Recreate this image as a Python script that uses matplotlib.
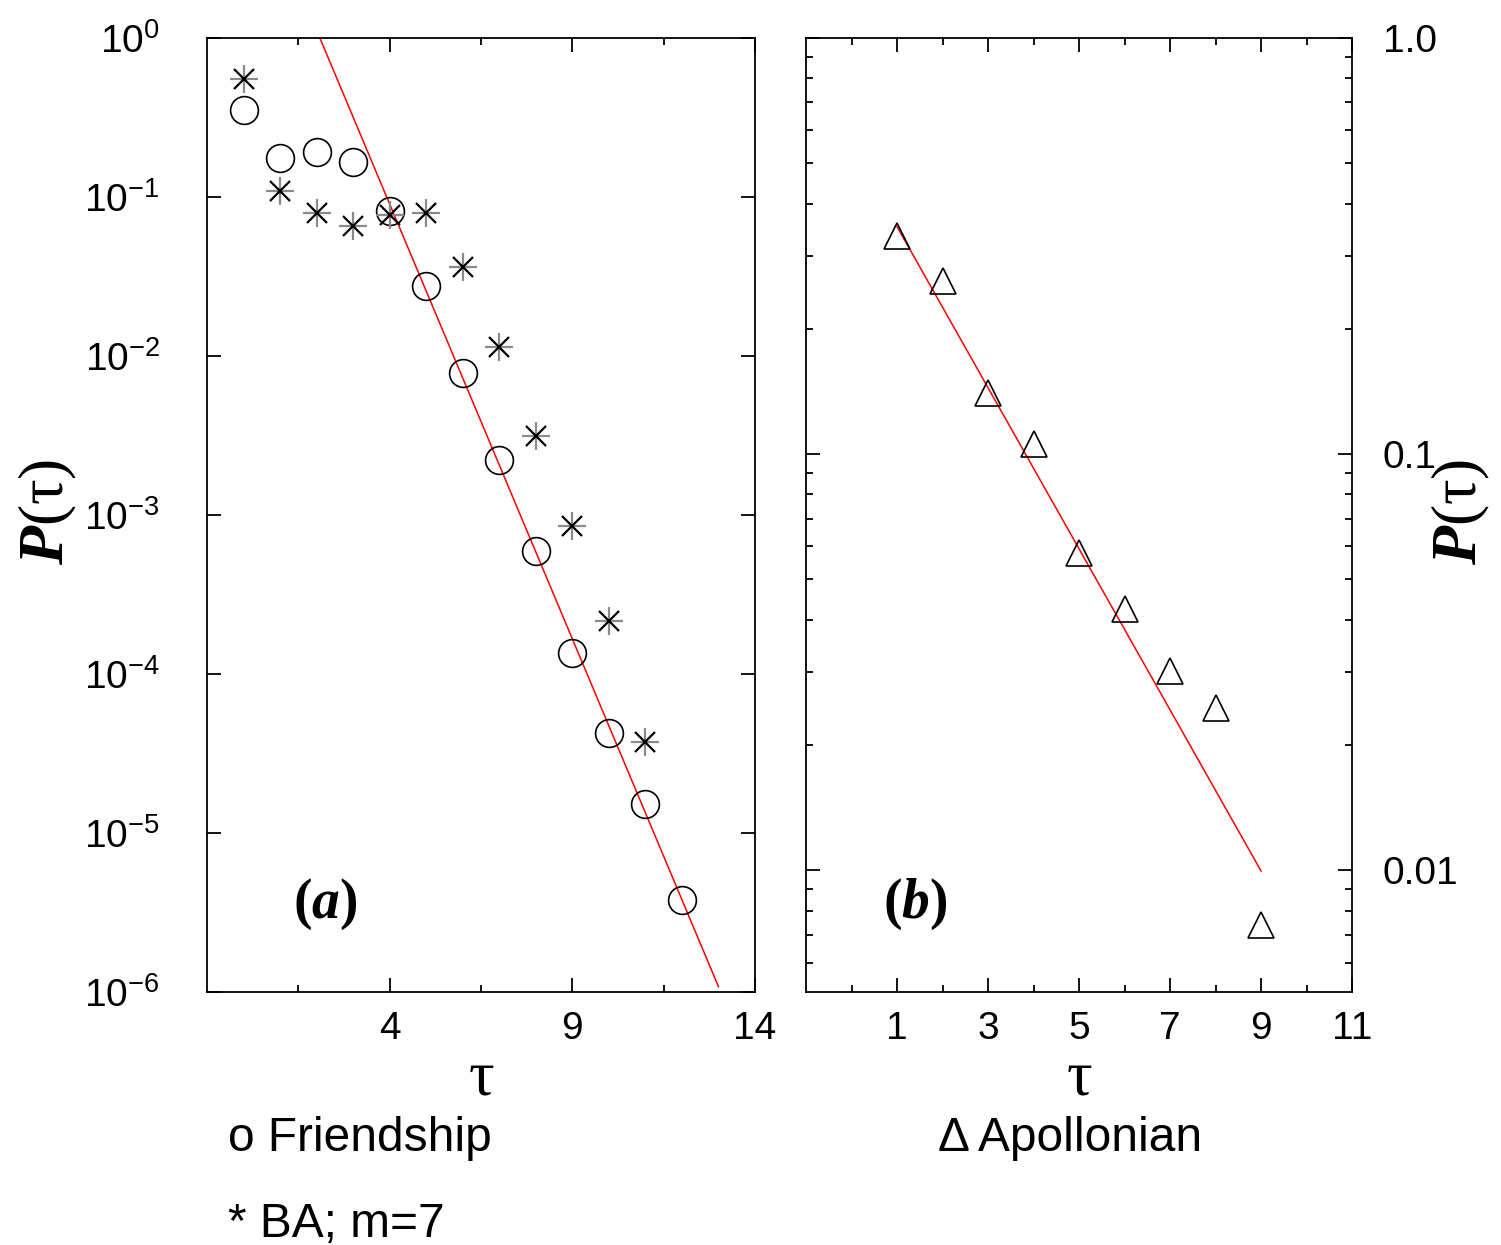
import numpy as np
import matplotlib
matplotlib.use("Agg")
import matplotlib.pyplot as plt
from matplotlib.ticker import FixedLocator, NullLocator, LogLocator, NullFormatter, FixedFormatter

# =========================
# DATA
# =========================

# panel (a): friendship network (circles) and BA m=7 (stars)
tau_friend = [0, 1, 2, 3, 4, 5, 6, 7, 8, 9, 10, 11, 12]
p_friend = [0.352, 0.176, 0.192, 0.166, 0.0817, 0.0276, 0.00782, 0.00222,
            5.94e-4, 1.36e-4, 4.25e-5, 1.52e-5, 3.79e-6]

tau_ba = [0, 1, 2, 3, 4, 5, 6, 7, 8, 9, 10, 11]
p_ba = [0.552, 0.109, 0.0793, 0.0657, 0.0771, 0.0793, 0.0363, 0.0114,
        0.00314, 8.53e-4, 2.15e-4, 3.73e-5]

# fitted line in (a)
fit_a_tau = [2.09, 13.0]
fit_a_p = [1.0, 1.08e-6]

# panel (b): Apollonian network (triangles)
tau_apo = [1, 2, 3, 4, 5, 6, 7, 8, 9]
p_apo = [0.335, 0.260, 0.140, 0.106, 0.0579, 0.0425, 0.0301, 0.0246, 0.00738]

# fitted line in (b)
fit_b_tau = [1, 9]
fit_b_p = [0.352, 0.00996]

xticks_a = [4, 9, 14]
xminor_a = [1.5, 6.5, 11.5]
xticks_b = [1, 3, 5, 7, 9, 11]
xminor_b = [0, 2, 4, 6, 8, 10]
yticks_b = [1.0, 0.1, 0.01]
ylabels_b = ["1.0", "0.1", "0.01"]

# =========================
# STYLE
# =========================

plt.rcParams['font.family'] = ['Liberation Sans', 'DejaVu Sans']
plt.rcParams['mathtext.fontset'] = 'custom'
plt.rcParams['mathtext.rm'] = 'Liberation Serif'
plt.rcParams['mathtext.it'] = 'Liberation Serif:italic'
plt.rcParams['mathtext.bf'] = 'Liberation Serif:bold'
plt.rcParams['mathtext.bfit'] = 'Liberation Serif:italic:bold'

TICK_FS = 28
LW = 1.3

fig = plt.figure(figsize=(15.01, 12.45), dpi=100)
ax_a = fig.add_axes([0.1379, 0.2032, 0.3651, 0.7663])
ax_b = fig.add_axes([0.5370, 0.2032, 0.3638, 0.7663])

for ax in (ax_a, ax_b):
    for s in ax.spines.values():
        s.set_linewidth(LW)
    ax.tick_params(which='both', direction='in', top=True, right=True,
                   width=LW, labelsize=TICK_FS)
    ax.tick_params(which='major', length=10)
    ax.tick_params(which='minor', length=5)

# =====================================================
# PANEL (a)
# =====================================================

ax_a.plot(fit_a_tau, fit_a_p, color='red', lw=1.1, zorder=1)
ax_a.plot(tau_friend, p_friend, ls='none', marker='o', ms=20,
          mfc='none', mec='black', mew=1.2, zorder=3)
ax_a.plot(tau_ba, p_ba, ls='none', marker='+', ms=20,
          mec='#8a8a8a', mew=1.6, zorder=3)
ax_a.plot(tau_ba, p_ba, ls='none', marker='x', ms=14,
          mec='black', mew=1.6, zorder=4)

ax_a.set_yscale('log')
ax_a.set_xlim(-1, 14)
ax_a.set_ylim(1e-6, 1e0)
ax_a.xaxis.set_major_locator(FixedLocator(xticks_a))
ax_a.xaxis.set_minor_locator(FixedLocator(xminor_a))
ax_a.yaxis.set_major_locator(LogLocator(base=10, numticks=10))
ax_a.yaxis.set_minor_locator(NullLocator())
ax_a.tick_params(axis='y', which='both', pad=34)
ax_a.tick_params(axis='x', which='both', pad=14)

ax_a.set_xlabel("τ", family='Liberation Serif', fontsize=46, labelpad=2)

ax_a.text(0.215, 0.092, r"$\mathbf{(}\mathbfit{a}\mathbf{)}$",
          transform=ax_a.transAxes, fontsize=40, ha='center', va='center')

# =====================================================
# PANEL (b)
# =====================================================

ax_b.plot(fit_b_tau, fit_b_p, color='red', lw=1.1, zorder=1)
ax_b.plot(tau_apo, p_apo, ls='none', marker='^', ms=19,
          mfc='none', mec='black', mew=1.2, zorder=3)

ax_b.set_yscale('log')
ax_b.set_xlim(-1, 11)
ax_b.set_ylim(0.0051, 1.0)
ax_b.xaxis.set_major_locator(FixedLocator(xticks_b))
ax_b.xaxis.set_minor_locator(FixedLocator(xminor_b))
ax_b.yaxis.set_major_locator(FixedLocator(yticks_b))
ax_b.yaxis.set_major_formatter(FixedFormatter(ylabels_b))
ax_b.yaxis.set_minor_locator(LogLocator(base=10, subs=np.arange(2, 10), numticks=20))
ax_b.yaxis.set_minor_formatter(NullFormatter())
ax_b.tick_params(axis='y', which='both', labelleft=False, labelright=True, pad=22)
ax_b.tick_params(axis='x', which='both', pad=14)

ax_b.set_xlabel("τ", family='Liberation Serif', fontsize=46, labelpad=2)

ax_b.text(0.20, 0.092, r"$\mathbf{(}\mathbfit{b}\mathbf{)}$",
          transform=ax_b.transAxes, fontsize=40, ha='center', va='center')

# =====================================================
# Y LABELS
# =====================================================

fig.text(48 / 1501, 1 - 512 / 1245, r"$\mathbfit{P}\mathrm{(\tau)}$",
         rotation=90, fontsize=46, ha='center', va='center')
fig.text(1461 / 1501, 1 - 512 / 1245, r"$\mathbfit{P}\mathrm{(\tau)}$",
         rotation=90, fontsize=46, ha='center', va='center')

# =====================================================
# LEGEND TEXTS
# =====================================================

fig.text(228 / 1501, 1 - 1151 / 1245, "o Friendship", fontsize=34.5,
         ha='left', va='baseline')
fig.text(228 / 1501, 1 - 1237 / 1245, "* BA; m=7", fontsize=34.5,
         ha='left', va='baseline')
fig.text(938 / 1501, 1 - 1151 / 1245, "Δ Apollonian", fontsize=34.5,
         ha='left', va='baseline')

fig.savefig("out.png", dpi=100)
